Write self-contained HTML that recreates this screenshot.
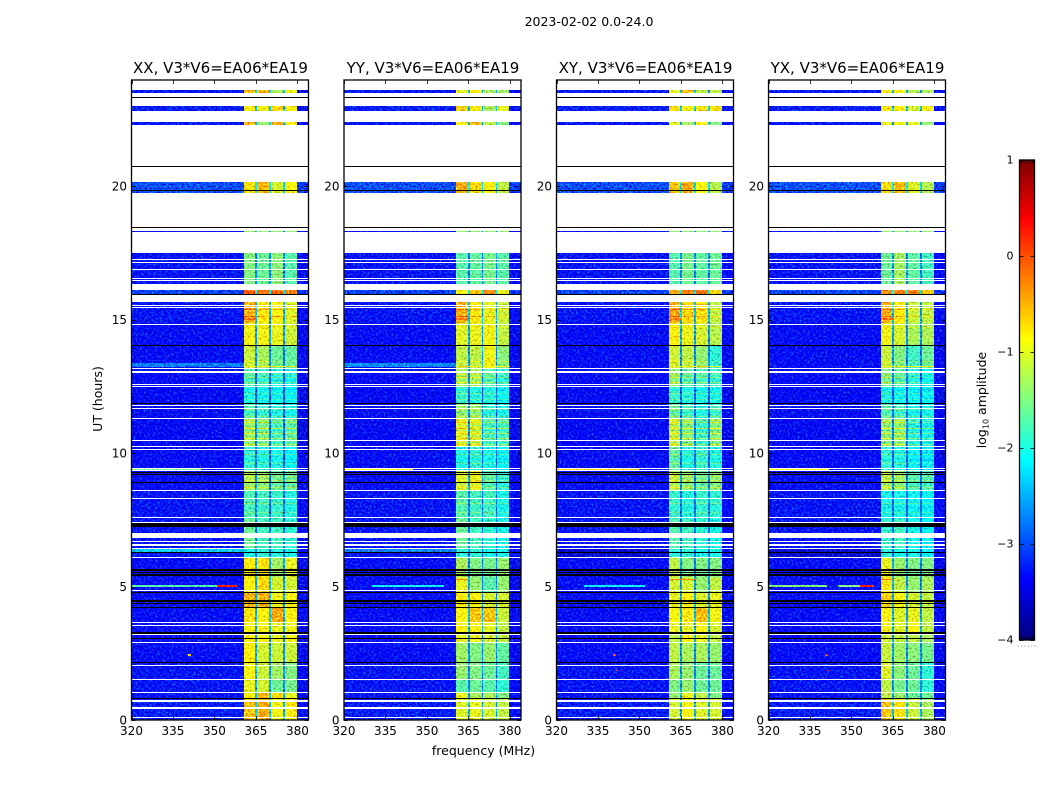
<!DOCTYPE html>
<html lang="en">
<head>
<meta charset="utf-8">
<title>2023-02-02 amplitude waterfall</title>
<style>
html,body{margin:0;padding:0;background:#fff;}
#chart{display:block;width:1050px;height:800px;font-family:"DejaVu Sans","Liberation Sans",sans-serif;fill:#000;}
text{font-family:"DejaVu Sans","Liberation Sans",sans-serif;}
</style>
</head>
<body>
<svg id="chart" xmlns="http://www.w3.org/2000/svg" width="1050" height="800" viewBox="0 0 1050 800">
  <defs>
    <filter id="speckle" x="0" y="0" width="1" height="1" color-interpolation-filters="sRGB">
      <feTurbulence type="fractalNoise" baseFrequency="0.5" numOctaves="2" seed="7" result="n"/>
      <feColorMatrix in="n" type="matrix" values="0.5 0 0 0 0.25  1.4 0 0 0 -0.2  0.8 0 0 0 0.1  0 0 0 0 1" result="t"/>
      <feComposite in="SourceGraphic" in2="t" operator="arithmetic" k1="0" k2="1" k3="0.85" k4="-0.425" result="mix"/>
      <feComposite in="mix" in2="SourceAlpha" operator="in"/>
    </filter>
  </defs>
  <rect x="0" y="0" width="1050" height="800" fill="#fff"/>
  <text x="589" y="26" font-size="12.5" text-anchor="middle">2023-02-02 0.0-24.0</text>
  <text x="483.5" y="755" font-size="12.5" text-anchor="middle">frequency (MHz)</text>
  <text x="0" y="0" font-size="12.5" text-anchor="middle" transform="translate(102 399) rotate(-90)">UT (hours)</text>
  <text x="0" y="0" font-size="12.5" text-anchor="middle" transform="translate(986 400) rotate(-90)">log<tspan font-size="8" dy="2.5">10</tspan><tspan dy="-2.5"> amplitude</tspan></text>
  <g id="panels"></g>
  <g id="colorbar"></g>
</svg>
<script>
// ---- Chart data ----------------------------------------------------------
const panelTitles = ["XX, V3*V6=EA06*EA19", "YY, V3*V6=EA06*EA19", "XY, V3*V6=EA06*EA19", "YX, V3*V6=EA06*EA19"];
const xTicks = [320, 335, 350, 365, 380];
const yTicks = [0, 5, 10, 15, 20];
const colorbarTicks = [-4, -3, -2, -1, 0, 1];
const colorbarTickLabels = ["\u22124", "\u22123", "\u22122", "\u22121", "0", "1"];

// Frequency segments (MHz): off-band, then four spectral windows split by gaps, then the upper edge.
const segmentEdges = [320, 360.5, 364.8, 365.4, 369.8, 370.4, 374.8, 375.4, 379.8, 384];
const segmentKinds = ["off", 0, "gap", 1, "gap", 2, "gap", 3, "edge"];

// Time regions holding data (UT hours); everything else stays white.
const regionStart = [0, .82, 1.06, 1.51, 2.14, 2.92, 3.22, 3.66, 4.21, 4.80, 5.36, 6.07, 6.40, 7.53, 8.58, 9.36, 10.22, 11.27, 11.87, 12.46, 13.20, 14.03, 14.87, 15.97, 16.33, 18.28, 19.75, 22.28, 22.82, 23.49];
const regionEnd   = [.82, 1.06, 1.51, 2.14, 2.92, 3.22, 3.66, 4.21, 4.80, 5.36, 6.07, 6.40, 7.53, 8.58, 9.36, 10.22, 11.27, 11.87, 12.46, 13.20, 14.03, 14.87, 15.65, 16.12, 17.49, 18.31, 20.15, 22.41, 23.00, 23.60];
const regionOff   = [-3.25, -3.3, -3.3, -3.3, -3.35, -3.35, -3.35, -3.35, -3.35, -3.35, -3.35, -3.3, -3.3, -3.3, -3.35, -3.35, -3.4, -3.35, -3.4, -3.35, -3.35, -3.35, -3.3, -3.05, -3.3, -3.3, -3.0, -3.3, -3.25, -3.3];

// Signal level (log10 amplitude) in windows 1-4 for each region, per polarisation.
const levelsXX = [[-.6,-.45,-.95,-.8],[-.9,-.5,-.7,-1],[-1,-1.1,-1.6,-1.55],[-.9,-1.15,-1.35,-1.5],[-.85,-1.1,-1.15,-1.15],[-.8,-.9,-1,-.9],[-.9,-.9,-1,-.95],[-.75,-.85,-.45,-.85],[-.5,-.5,-.95,-.9],[-.85,-.7,-1.1,-1.1],[-.8,-.75,-1.35,-1],[-2,-1.9,-1.95,-2],[-1.6,-1.8,-1.8,-1.9],[-1.75,-1.8,-1.85,-1.95],[-1.3,-1.4,-1.6,-1.6],[-1.9,-1.95,-2,-2.1],[-1.35,-1.5,-1.75,-1.65],[-1.75,-1.85,-1.95,-2],[-2,-2.05,-2.1,-2.15],[-1.75,-1.85,-1.95,-2],[-1.15,-1.3,-1.6,-1.65],[-.95,-.95,-1,-1.15],[-.5,-.8,-.85,-1.05],[-.1,-.2,-.2,-.25],[-1.5,-1.6,-1.45,-1.7],[-1.4,-1.4,-1.4,-1.4],[-.75,-.5,-1.1,-.9],[-.5,-1.4,-.5,-.8],[-.8,-.95,-.65,-.8],[-.55,-.5,-1.3,-.95]];
const levelsYY = [[-1.05,-1,-1.1,-1.2],[-1,-1.3,-1.3,-1.5],[-1.7,-1.6,-1.7,-1.9],[-1.4,-1.5,-1.6,-1.8],[-1.35,-1.5,-1.4,-1.65],[-1,-1,-1.1,-1.2],[-.9,-.9,-1,-1.2],[-.9,-.6,-.6,-1.15],[-.8,-.85,-1.1,-1.1],[-1,-1.4,-1.7,-1.4],[-1.3,-1.5,-1.55,-1.4],[-1.9,-1.9,-2,-2],[-1.6,-1.8,-1.9,-2],[-1.7,-1.8,-1.8,-2],[-1.1,-1,-1.7,-1.9],[-2,-1.9,-2,-2.1],[-1,-1.1,-1.75,-1.75],[-1.4,-1.4,-1.9,-2],[-1.85,-1.95,-1.95,-2.1],[-1.3,-1.3,-1.7,-1.9],[-1.2,-1.2,-.95,-1.45],[-1.05,-1,-.95,-1.2],[-.5,-.8,-1,-1.15],[-.95,-.6,-.3,-1],[-1.7,-1.65,-1.55,-1.7],[-1.4,-1.4,-1.4,-1.4],[-.45,-.7,-.85,-1.2],[-.9,-.55,-1.2,-1.5],[-.6,-.8,-1.3,-1],[-1,-.85,-1.3,-1.35]];
const levelsXY = [[-1.1,-.9,-1.05,-1.1],[-1.4,-1,-1.2,-1.5],[-1.5,-1.4,-1.6,-1.6],[-1.3,-1.4,-1.6,-1.6],[-1.2,-1.3,-1.3,-1.4],[-1.2,-.9,-1,-1.2],[-1,-1,-.9,-1.1],[-.9,-.8,-.55,-.95],[-1,-.85,-1.05,-1],[-1.1,-1.1,-1.4,-1.2],[-1.2,-1.5,-1.5,-1.5],[-1.9,-1.9,-2,-2],[-1.7,-1.8,-1.9,-2],[-1.85,-1.95,-1.85,-1.9],[-1.2,-1.4,-1.6,-1.45],[-1.65,-1.95,-1.85,-1.95],[-1.15,-1.45,-1.8,-1.45],[-1.6,-1.8,-1.95,-1.8],[-1.85,-1.95,-2,-2],[-1.4,-1.7,-1.75,-1.85],[-1.1,-1.2,-1.4,-1.9],[-.85,-1,-1.1,-1.25],[-.45,-.7,-.75,-1.2],[-.5,-.25,-.2,-.7],[-1.7,-1.55,-1.65,-1.6],[-1.4,-1.4,-1.4,-1.4],[-.6,-.45,-.9,-1.25],[-1,-1.3,-.85,-1.5],[-.75,-.9,-.8,-.75],[-1,-.6,-1.2,-1.2]];
const levelsYX = [[-.6,-.75,-1.15,-1.3],[-1.2,-1.4,-1.6,-1.6],[-1.2,-1.55,-1.6,-1.9],[-1.05,-1.45,-1.6,-1.9],[-1.15,-1.35,-1.45,-1.55],[-1.1,-1.2,-1.2,-1.3],[-.9,-1.05,-.85,-1.2],[-.9,-1.05,-1,-1.2],[-.65,-.9,-1.1,-1.2],[-.8,-1.2,-1.4,-1.3],[-1,-1.4,-1.5,-1.5],[-1.9,-2,-2,-2.05],[-1.85,-1.8,-2,-2.1],[-2,-2,-2.05,-2.1],[-1.25,-1.4,-1.75,-1.75],[-1.9,-1.95,-2.1,-2.2],[-1.4,-1.4,-1.9,-2],[-1.7,-1.8,-2,-2],[-2,-2.05,-2.1,-2.15],[-1.5,-1.7,-1.95,-2.1],[-1.15,-1.5,-1.8,-1.6],[-.95,-1.1,-1.3,-1.3],[-.5,-.8,-1.15,-1.2],[-.35,-.25,-.3,-.6],[-1.6,-1.35,-1.65,-1.8],[-1.4,-1.4,-1.4,-1.4],[-.7,-.55,-1.05,-1.25],[-.95,-.95,-1,-1.4],[-.8,-.85,-1.1,-.85],[-.75,-.9,-1.25,-1.3]];
const levelsByPanel = [levelsXX, levelsYY, levelsXY, levelsYX];

// Thin in-band rows brighter or dimmer than their region (log10 offset), shared by all panels.
const rippleHour  = [7.75,7.95,8.1, 8.7,8.8,8.95,9.1, 9.6,9.75,9.95, 10.3,10.38,10.52,10.62,10.72,10.82,10.92,11.02,11.12,11.2, 11.35,11.5,11.62, 12.0,12.2,12.35, 12.62,12.72,12.82,12.92, 13.4,13.6, 14.3,14.7,15.1,15.35];
const rippleBoost = [.25,-.2,.3, .25,-.2,.3,.25, .3,-.2,.3, .35,-.25,.4,-.2,.35,-.3,.45,-.2,.3,.25, .3,-.2,.25, .25,.3,-.2, .35,-.2,.3,.25, .2,-.1, .15,.2,.4,.35];

// Short features: interference lines, spikes and brighter off-band rows.
const streakPanel = [0,0,1,2,3,3,3, 0,1,2,3, 0,1, 2,3, 0,1, 0,1,2,3, 0,1,2,3, 1,2,3, 0,2,3, 2,3];
const streakHour  = [5.0,5.0,5.0,5.0,5.0,5.0,5.0, 9.38,9.38,9.38,9.38, 6.25,6.25, 6.1,6.1, 13.22,13.22, 13.22,13.22,13.22,13.22, 15.0,15.0,15.0,15.0, 5.24,5.24,5.24, 2.38,2.38,2.38, 1.83,1.83];
const streakFrom  = [320,351,330,330,320,345,353, 320,320,320,320, 320,320, 320,320, 320,320, 360.5,360.5,360.5,360.5, 360.5,360.5,360.5,360.5, 360.5,360.5,360.5, 340.5,340.5,340.5, 341,341];
const streakTo    = [351,358,356,352,341,353,358, 345,345,350,342, 360.5,360.5, 360.5,360.5, 360.5,360.5, 380,380,380,380, 365,365,365,365, 365,370,365, 341.5,341.5,341.5, 342,342];
const streakLevel = [-1.7,.25,-2.1,-2.1,-1.5,-1.5,.25, -1.5,-.9,-.6,-.85, -2.4,-2.75, -3.6,-3.6, -2.75,-2.7, -.8,-.8,-.9,-.9, -.15,-.15,-.2,-.15, -.3,-.3,-.2, -.6,0,0, .1,.1];
const streakHours = [.05,.05,.05,.05,.05,.05,.05, .05,.05,.05,.05, .15,.15, .3,.3, .15,.15, .04,.04,.04,.04, .05,.05,.05,.05, .05,.05,.05, .08,.08,.08, .05,.05];

// Full-width missing rows (UT hours).
const whiteGapStart = [.06,.41,.66,1.01,1.51,2.02,2.88,3.17,3.51,3.62,4.84,6.07,6.42,6.53,6.66,6.82,7.37,7.55,8.28,8.58,9.34,9.43,10.13,10.22,10.44,11.27,11.67,11.76,12.46,12.54,13.01,13.17,14.82,15.45,15.52,16.44];
const whiteGapEnd   = [.11,.48,.76,1.06,1.55,2.07,2.92,3.22,3.54,3.66,4.87,6.10,6.45,6.58,6.70,7.00,7.40,7.60,8.31,8.63,9.36,9.45,10.16,10.26,10.47,11.30,11.70,11.79,12.50,12.57,13.07,13.20,14.85,15.48,15.55,16.48];
const blackLineStart = [.77,2.14,3.02,3.23,4.21,4.34,4.42,4.78,5.39,5.46,5.51,5.57,5.63,6.25,7.24,8.88,9.18,9.24,11.87,14.00,15.91,18.43,19.82,20.72,23.31];
const blackLineEnd   = [.82,2.17,3.07,3.28,4.25,4.37,4.49,4.81,5.42,5.48,5.54,5.60,5.66,6.31,7.37,8.91,9.21,9.28,11.89,14.03,15.97,18.46,19.85,20.75,23.34];
// Fine white rows inside the 16.5-17.5 h block.
const fineGapStart = [16.53,16.84,17.11,17.22];
const fineGapEnd   = [16.57,16.88,17.15,17.26];

// ---- Layout and scales -----------------------------------------------------
const panelLeft = [131.5, 344, 556.5, 768.5];
const panelWidth = 177;
const plotTop = 80, plotBottom = 720;
const freqMin = 320, freqMax = 384;
const pxPerHour = 26.7;
const NS = "http://www.w3.org/2000/svg";

function xScale(p, f) { return panelLeft[p] + (f - freqMin) / (freqMax - freqMin) * panelWidth; }
function yScale(h) { return Math.max(plotTop, plotBottom - h * pxPerHour); }
function jet(v) {
  const t = Math.max(0, Math.min(1, (v + 4) / 5));
  const r = Math.max(0, Math.min(1, 1.5 - Math.abs(4 * t - 3)));
  const g = Math.max(0, Math.min(1, 1.5 - Math.abs(4 * t - 2)));
  const b = Math.max(0, Math.min(1, 1.5 - Math.abs(4 * t - 1)));
  return "rgb(" + Math.round(r * 255) + "," + Math.round(g * 255) + "," + Math.round(b * 255) + ")";
}
function make(tag, parent, attrs) {
  const el = document.createElementNS(NS, tag);
  for (const k in attrs) el.setAttribute(k, attrs[k]);
  parent.appendChild(el);
  return el;
}
function segmentLevel(kind, s, levels, r) {
  const off = regionOff[r];
  if (kind === "off") return off;
  if (kind === "edge") return off - 0.08;
  if (kind === "gap") {
    const near = Math.max(levels[r][segmentKinds[s - 1]], levels[r][segmentKinds[s + 1]]);
    return off + 0.32 * (near - off);
  }
  return levels[r][kind];
}
function regionOfHour(h) {
  for (let r = 0; r < regionStart.length; r++) {
    if (h >= regionStart[r] && h < regionEnd[r]) return r;
  }
  return -1;
}
// Whole-pixel rectangle between two frequencies and two hours, so rows never blur.
function boxAttrs(p, f0, f1, h0, h1, color) {
  const x0 = Math.round(xScale(p, f0)), x1 = Math.round(xScale(p, f1));
  const yTop = Math.round(yScale(h1)), yBottom = Math.round(yScale(h0));
  return { x: x0, y: yTop, width: Math.max(1, x1 - x0), height: Math.max(1, yBottom - yTop), fill: color };
}

const panelsRoot = document.getElementById("panels");
panelTitles.forEach(function (title, p) {
  const panel = make("g", panelsRoot, {});
  
  

  const cells = make("g", panel, { filter: "url(#speckle)", "shape-rendering": "crispEdges" });
  
  

  regionStart.forEach(function (start, r) {
    segmentKinds.forEach(function (kind, s) {
      const color = jet(segmentLevel(kind, s, levelsByPanel[p], r));
      const cell = make("rect", cells, boxAttrs(p, segmentEdges[s], segmentEdges[s + 1], start, regionEnd[r], color));
      
      
    });
  });

  rippleHour.forEach(function (h, i) {
    const r = regionOfHour(h);
    if (r < 0) return;
    segmentKinds.forEach(function (kind, s) {
      if (typeof kind !== "number") return;
      const color = jet(levelsByPanel[p][r][kind] + rippleBoost[i]);
      const ripple = make("rect", cells, boxAttrs(p, segmentEdges[s], segmentEdges[s + 1], h, h + 0.03, color));
      
      
    });
  });

  streakPanel.forEach(function (owner, i) {
    if (owner !== p) return;
    const streak = make("rect", cells, boxAttrs(p, streakFrom[i], streakTo[i], streakHour[i], streakHour[i] + streakHours[i], jet(streakLevel[i])));
    
    
  });

  const gaps = make("g", panel, { "shape-rendering": "crispEdges" });
  
  
  whiteGapStart.forEach(function (lo, i) {
    const row = make("rect", gaps, boxAttrs(p, freqMin, freqMax, lo, whiteGapEnd[i], "#fff"));
    
    
  });
  fineGapStart.forEach(function (lo, i) {
    const row = make("rect", gaps, boxAttrs(p, freqMin, freqMax, lo, fineGapEnd[i], "#fff"));
    
    
  });
  blackLineStart.forEach(function (lo, i) {
    const row = make("rect", gaps, boxAttrs(p, freqMin, freqMax, lo, blackLineEnd[i], "#000"));
    
    
  });

  const frame = make("rect", panel, { x: panelLeft[p], y: plotTop, width: panelWidth, height: plotBottom - plotTop, fill: "none", stroke: "#000", "stroke-width": 1.3 });
  
  

  const titleEl = make("text", panel, { x: panelLeft[p] + panelWidth / 2 + 0.5, y: 73, "font-size": 15, "text-anchor": "middle" });
  titleEl.textContent = title;
  
  

  xTicks.forEach(function (f) {
    const x = Math.round(xScale(p, f)) + 0.5;
    const tickB = make("line", panel, { x1: x, x2: x, y1: plotBottom, y2: plotBottom - 4, stroke: "#000", "stroke-width": 0.8 });
    
    
    const tickT = make("line", panel, { x1: x, x2: x, y1: plotTop, y2: plotTop + 4, stroke: "#000", "stroke-width": 0.8 });
    
    
    const label = make("text", panel, { x: xScale(p, f), y: 735, "font-size": 12, "text-anchor": "middle" });
    label.textContent = String(f);
    
    
  });

  yTicks.forEach(function (h) {
    const y = Math.round(yScale(h)) + 0.5;
    const tickL = make("line", panel, { x1: panelLeft[p], x2: panelLeft[p] + 4, y1: y, y2: y, stroke: "#000", "stroke-width": 0.8 });
    
    
    const tickR = make("line", panel, { x1: panelLeft[p] + panelWidth, x2: panelLeft[p] + panelWidth - 4, y1: y, y2: y, stroke: "#000", "stroke-width": 0.8 });
    
    
    const label = make("text", panel, { x: panelLeft[p] - 4.5, y: yScale(h) + 4.5, "font-size": 12, "text-anchor": "end" });
    label.textContent = String(h);
    
    
  });
});

// ---- Colorbar ----------------------------------------------------------------
const cbRoot = document.getElementById("colorbar");
const cbLeft = 1019.5, cbWidth = 15, cbTop = 160, cbBottom = 640;
function cbScale(v) { return cbBottom - (v + 4) / 5 * (cbBottom - cbTop); }
for (let i = 0; i < 256; i++) {
  const v0 = -4 + i / 256 * 5, v1 = -4 + (i + 1) / 256 * 5;
  const swatch = make("rect", cbRoot, { x: cbLeft, y: cbScale(v1), width: cbWidth, height: cbScale(v0) - cbScale(v1) + 0.4, fill: jet(v0), "shape-rendering": "crispEdges" });
  
  
}
const cbFrame = make("rect", cbRoot, { x: cbLeft, y: cbTop, width: cbWidth, height: cbBottom - cbTop, fill: "none", stroke: "#000", "stroke-width": 1.3 });


colorbarTicks.forEach(function (v, i) {
  const y = Math.round(cbScale(v)) + 0.5;
  const t1 = make("line", cbRoot, { x1: cbLeft, x2: cbLeft + 4, y1: y, y2: y, stroke: "#000", "stroke-width": 0.8 });
  
  
  const t2 = make("line", cbRoot, { x1: cbLeft + cbWidth, x2: cbLeft + cbWidth - 4, y1: y, y2: y, stroke: "#000", "stroke-width": 0.8 });
  
  
  const label = make("text", cbRoot, { x: cbLeft - 6, y: cbScale(v) + 3.5, "font-size": 11, "text-anchor": "end" });
  label.textContent = colorbarTickLabels[i];
  
  
});
for (let i = 0; i < 5; i++) {
  const x = cbLeft + 1.5 + i * 3;
  const combT = make("line", cbRoot, { x1: x, x2: x, y1: cbTop, y2: cbTop + 4, stroke: "#000", "stroke-width": 0.7 });
  
  
  const combB = make("line", cbRoot, { x1: x, x2: x, y1: cbBottom, y2: cbBottom - 4, stroke: "#000", "stroke-width": 0.7 });
  
  
}
for (let i = 0; i < 6; i++) {
  const dot = make("rect", cbRoot, { x: 1018 + i * 3.3, y: 645.5, width: 1, height: 1, fill: "#888" });
  
  
}
</script>
</body>
</html>
